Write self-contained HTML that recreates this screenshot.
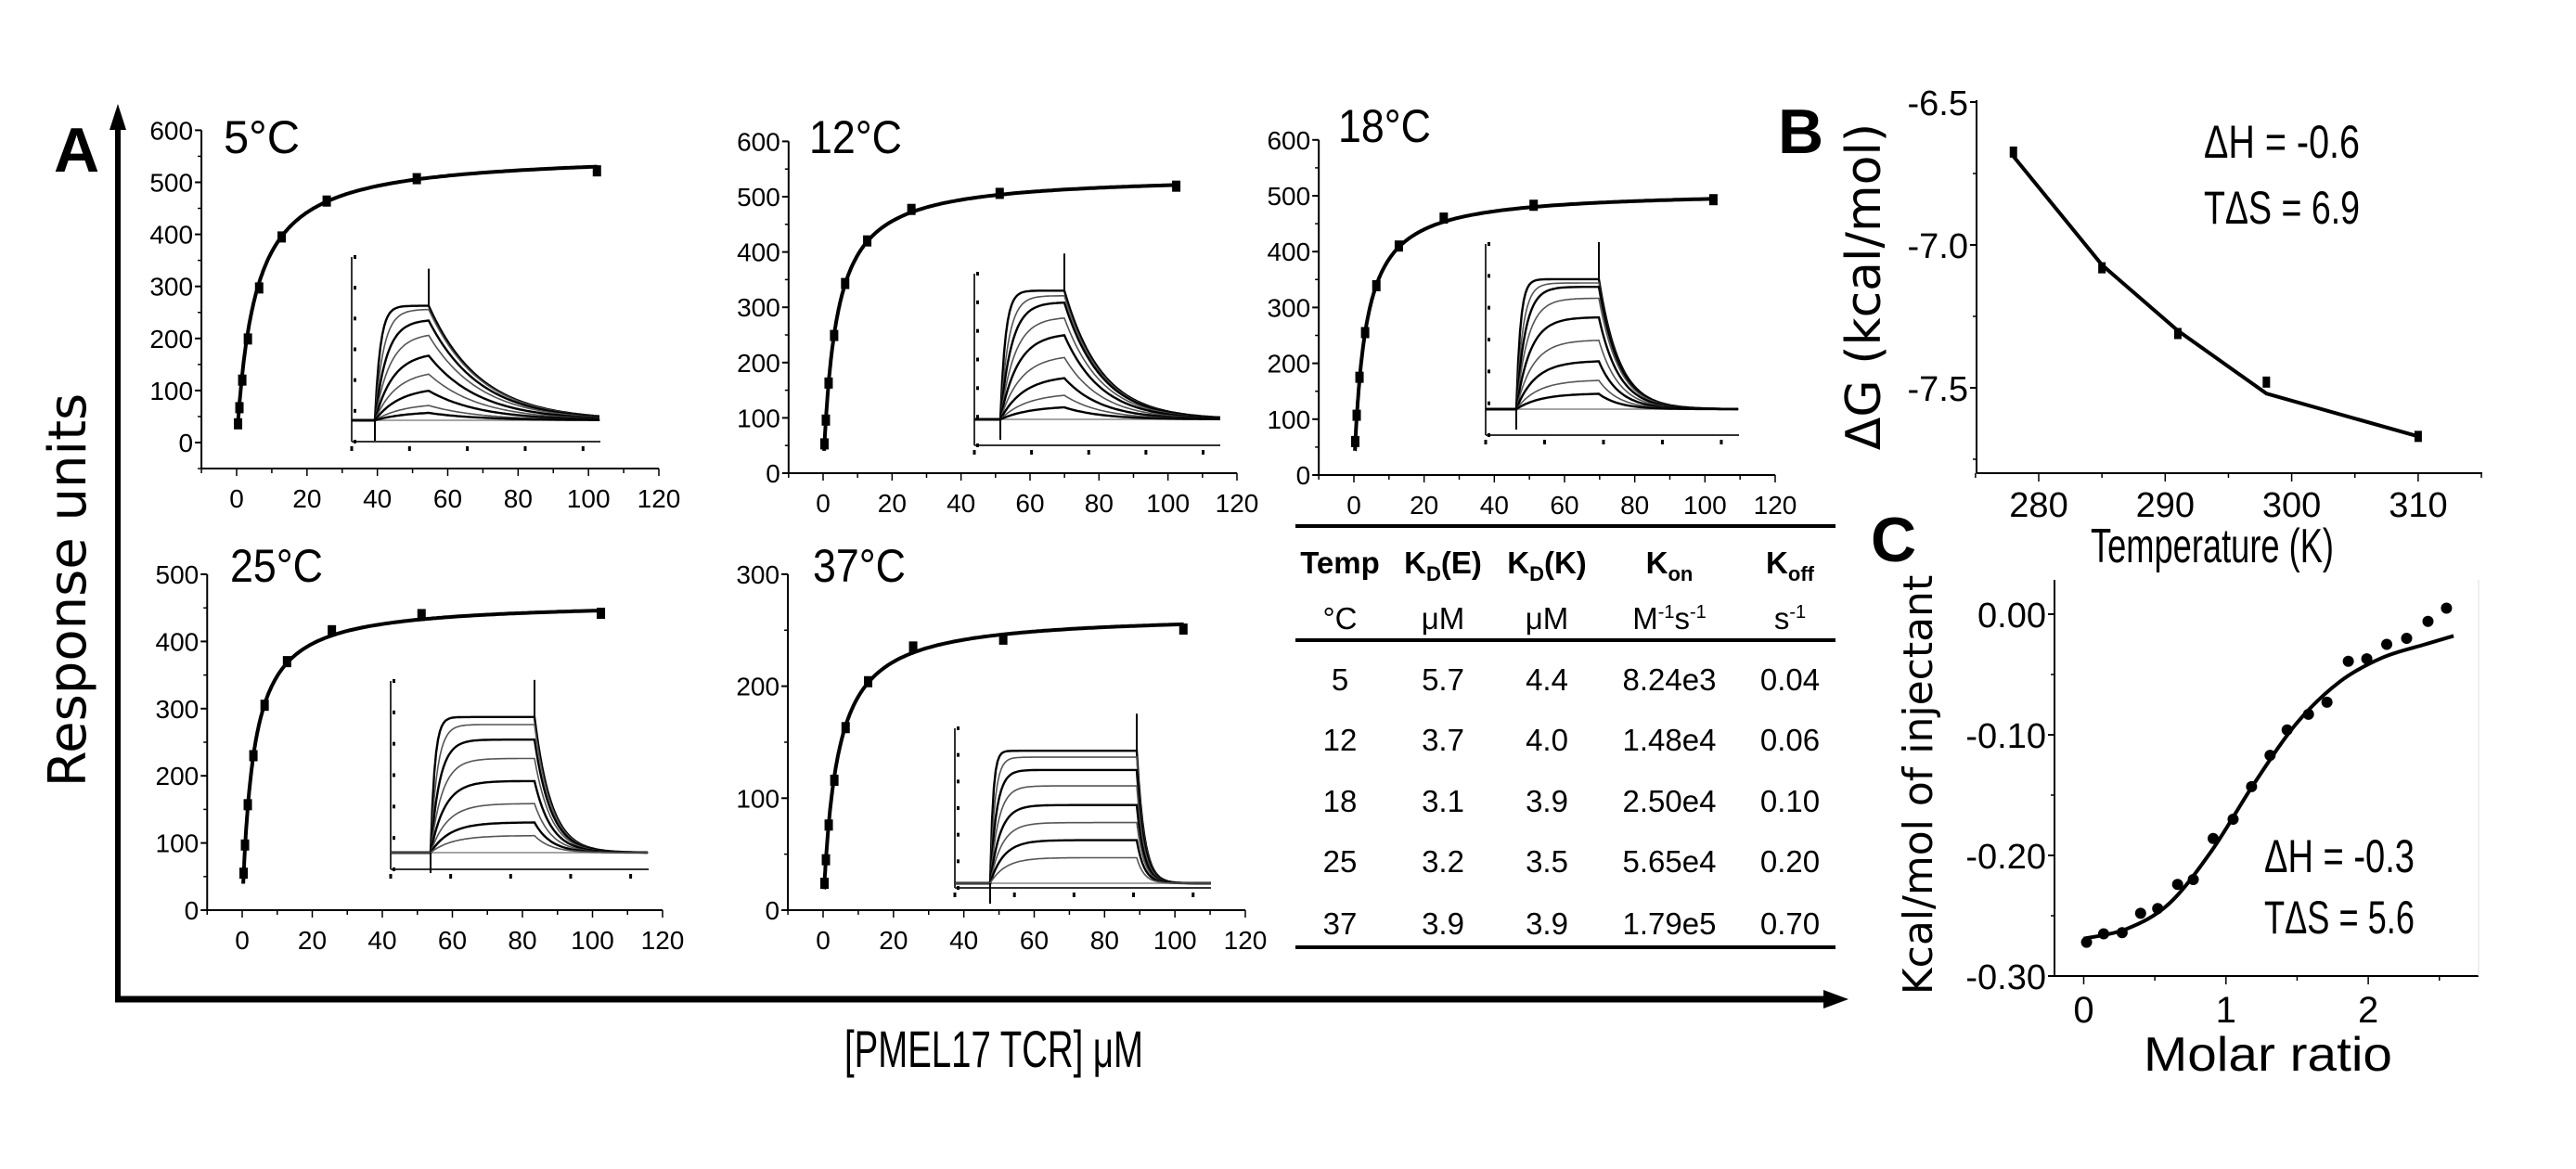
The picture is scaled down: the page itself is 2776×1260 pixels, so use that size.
<!DOCTYPE html>
<html><head><meta charset="utf-8">
<style>
html,body{margin:0;padding:0;background:#fff;}
svg{display:block;font-family:"Liberation Sans",sans-serif;}
</style></head>
<body>
<svg id="fig" width="2776" height="1260" viewBox="0 0 2776 1260" xmlns="http://www.w3.org/2000/svg">
<rect width="2776" height="1260" fill="#fff"/>
<g>
<line x1="127" y1="130" x2="127" y2="1080" stroke="#000" stroke-width="6"/>
<polygon points="127,112 118,140 136,140" fill="#000"/>
<line x1="124" y1="1077" x2="1975" y2="1077" stroke="#000" stroke-width="7"/>
<polygon points="1992,1077 1965,1067 1965,1087" fill="#000"/>
</g>
<text x="58" y="185" font-size="68" font-weight="bold">A</text>
<text transform="translate(92,636) rotate(-90)" text-anchor="middle" font-family="DejaVu Sans, sans-serif" font-size="56">Response units</text>
<text x="1071" y="1150" text-anchor="middle" font-size="56" textLength="322" lengthAdjust="spacingAndGlyphs">[PMEL17 TCR] μM</text>
<text x="1916" y="165" font-size="68" font-weight="bold">B</text>
<text x="2016" y="605" font-size="68" font-weight="bold">C</text>
<g id="plots"></g>
<g font-size="33" text-anchor="middle">
<line x1="1396" y1="567" x2="1978" y2="567" stroke="#000" stroke-width="4"/>
<line x1="1396" y1="690" x2="1978" y2="690" stroke="#000" stroke-width="4"/>
<line x1="1396" y1="1021" x2="1978" y2="1021" stroke="#000" stroke-width="4"/>
<g font-weight="bold">
<text x="1444" y="618">Temp</text>
<text x="1555" y="618">K<tspan font-size="22" dy="8">D</tspan><tspan dy="-8">(E)</tspan></text>
<text x="1667" y="618">K<tspan font-size="22" dy="8">D</tspan><tspan dy="-8">(K)</tspan></text>
<text x="1799" y="618">K<tspan font-size="22" dy="8">on</tspan></text>
<text x="1929" y="618">K<tspan font-size="22" dy="8">off</tspan></text>
</g>
<text x="1444" y="678">°C</text>
<text x="1555" y="678">μM</text>
<text x="1667" y="678">μM</text>
<text x="1799" y="678">M<tspan font-size="20" dy="-12">-1</tspan><tspan dy="12">s</tspan><tspan font-size="20" dy="-12">-1</tspan></text>
<text x="1929" y="678">s<tspan font-size="20" dy="-12">-1</tspan></text>
<g id="tbody"></g>
</g>
</svg>
<script>
const NS="http://www.w3.org/2000/svg";
const concs=[0.4,0.8,1.6,3.2,6.4,12.8,25.6,51.2,102.4];
const resp5=[36,67,120,199,297,395,464,507,522];
const resp12=[53,96,163,249,343,420,477,506,519];
const resp18=[60,107,175,255,339,410,460,483,493];
const resp25=[55,97,157,230,305,370,416,440,442];
const resp37=[24,45,76,116,163,204,235,242,251];
const fitRmax=[557,540,510,460,265];
const fitKd=[5.2,3.7,3.2,3.2,3.9];
const panelTitles=["5°C","12°C","18°C","25°C","37°C"];
const xTicks=[0,20,40,60,80,100,120];
const yTicks5=[0,100,200,300,400,500,600];
const yTicks25=[0,100,200,300,400,500];
const yTicks37=[0,100,200,300];
const sens5=[0.62,0.60,0.54,0.46,0.35,0.25,0.16,0.08,0.04];
const sens12=[0.75,0.72,0.68,0.59,0.49,0.36,0.24,0.14,0.07];
const sens18=[0.68,0.66,0.64,0.58,0.48,0.36,0.25,0.15,0.08];
const sens25=[0.72,0.68,0.60,0.50,0.38,0.26,0.16,0.09];
const sens37=[0.83,0.79,0.71,0.61,0.49,0.38,0.27,0.16];
const tempK=[278,285,291,298,310];
const dG=[-6.675,-7.08,-7.31,-7.48,-7.67];
const dGfit=[-6.69,-7.07,-7.30,-7.52,-7.67];
const bXTicks=[280,290,300,310];
const bYTicks=[-6.5,-7.0,-7.5];
const molar=[0.02,0.14,0.27,0.40,0.52,0.66,0.77,0.91,1.05,1.18,1.31,1.43,1.58,1.71,1.86,1.99,2.13,2.27,2.42,2.55];
const heat=[-0.272,-0.265,-0.264,-0.248,-0.244,-0.224,-0.220,-0.186,-0.170,-0.143,-0.117,-0.096,-0.083,-0.073,-0.039,-0.037,-0.025,-0.020,-0.006,0.005];
const fitMolar=[0,0.3,0.6,0.9,1.2,1.5,1.8,2.1,2.4,2.6];
const fitHeat=[-0.269,-0.261,-0.240,-0.196,-0.140,-0.090,-0.056,-0.036,-0.025,-0.018];
const cXTicks=[0,1,2];
const cYTicks=[0.00,-0.10,-0.20,-0.30];
const tTemp=["5","12","18","25","37"];
const tKdE=["5.7","3.7","3.1","3.2","3.9"];
const tKdK=["4.4","4.0","3.9","3.5","3.9"];
const tKon=["8.24e3","1.48e4","2.50e4","5.65e4","1.79e5"];
const tKoff=["0.04","0.06","0.10","0.20","0.70"];

const root=document.getElementById('plots');
function mk(tag,attrs,parent){const e=document.createElementNS(NS,tag);for(const k in attrs)e.setAttribute(k,attrs[k]);(parent||root).appendChild(e);return e;}
function smooth(pts){
 let d='M'+pts[0][0]+','+pts[0][1];
 for(let i=0;i<pts.length-1;i++){
  const p0=pts[Math.max(0,i-1)],p1=pts[i],p2=pts[i+1],p3=pts[Math.min(pts.length-1,i+2)];
  const c1=[p1[0]+(p2[0]-p0[0])/6,p1[1]+(p2[1]-p0[1])/6];
  const c2=[p2[0]-(p3[0]-p1[0])/6,p2[1]-(p3[1]-p1[1])/6];
  d+=' C'+c1[0].toFixed(1)+','+c1[1].toFixed(1)+' '+c2[0].toFixed(1)+','+c2[1].toFixed(1)+' '+p2[0].toFixed(1)+','+p2[1].toFixed(1);
 }
 return d;
}

const layouts=[
 {x0:255,x120:710,yZero:477,per100:56.1,ymin:-50,ymax:600,ticks:yTicks5,tx:241,ty:165,ins:{l:379,t:277,b:476,r:647,s:404,e:462,base:453,data:sens5,rise:0.10,dec:55}},
 {x0:887,x120:1333,yZero:510,per100:59.6,ymin:0,ymax:600,ticks:yTicks5,tx:872,ty:165,ins:{l:1050,t:295,b:480,r:1315,s:1078,e:1147,base:452,data:sens12,rise:0.08,dec:40}},
 {x0:1459,x120:1913,yZero:512,per100:60.2,ymin:0,ymax:600,ticks:yTicks5,tx:1442,ty:153,ins:{l:1601,t:263,b:469,r:1874,s:1634,e:1723,base:441,data:sens18,rise:0.05,dec:22}},
 {x0:261,x120:714,yZero:981,per100:72.4,ymin:0,ymax:500,ticks:yTicks25,tx:248,ty:627,ins:{l:421,t:734,b:937,r:699,s:464,e:576,base:919,data:sens25,rise:0.04,dec:18}},
 {x0:887,x120:1342,yZero:981,per100:120.7,ymin:0,ymax:300,ticks:yTicks37,tx:876,ty:627,ins:{l:1029,t:785,b:957,r:1305,s:1067,e:1225,base:952,data:sens37,rise:0.02,dec:8}}
];
const respAll=[resp5,resp12,resp18,resp25,resp37];

layouts.forEach((L,pi)=>{
 const g=mk('g',{});
 
 
 const sx=v=>L.x0+(v)*(L.x120-L.x0)/120;
 const sy=v=>L.yZero-v*L.per100/100;
 const left=sx(-10), bottom=sy(L.ymin), top=sy(L.ymax);
 mk('line',{x1:left,y1:top,x2:left,y2:bottom,stroke:'#000','stroke-width':2},g);
 mk('line',{x1:left,y1:bottom,x2:sx(120),y2:bottom,stroke:'#000','stroke-width':2},g);
 L.ticks.forEach(t=>{
  mk('line',{x1:left-7,y1:sy(t),x2:left,y2:sy(t),stroke:'#000','stroke-width':2},g);
  if(t+50<=L.ymax) mk('line',{x1:left-4,y1:sy(t+50),x2:left,y2:sy(t+50),stroke:'#000','stroke-width':1.5},g);
  const tl=mk('text',{x:left-9,y:sy(t)+10,'text-anchor':'end','font-size':28},g);tl.textContent=t;
  
  
 });
 if(L.ymin<0) mk('line',{x1:left-4,y1:sy(-50),x2:left,y2:sy(-50),stroke:'#000','stroke-width':1.5},g);
 for(let v=-10;v<=120;v+=10){
  const major=xTicks.includes(v);
  mk('line',{x1:sx(v),y1:bottom,x2:sx(v),y2:bottom+(major?8:5),stroke:'#000','stroke-width':1.5},g);
 }
 xTicks.forEach(t=>{
  const tl=mk('text',{x:sx(t),y:bottom+42,'text-anchor':'middle','font-size':28},g);tl.textContent=t;
  
  
 });
 const title=mk('text',{x:L.tx,y:L.ty,'font-size':50,textLength:(panelTitles[pi].length>3?100:82),lengthAdjust:'spacingAndGlyphs'},g);
 title.textContent=panelTitles[pi];
 
 
 let d='';
 for(let i=0;i<=200;i++){const c=0.3+Math.pow(i/200,2.2)*102.2;const r=fitRmax[pi]*c/(fitKd[pi]+c);d+=(i?'L':'M')+sx(c).toFixed(1)+','+sy(r).toFixed(1);}
 const fc=mk('path',{d:d,fill:'none',stroke:'#000','stroke-width':4},g);
 
 
 respAll[pi].forEach((r,i)=>{
  const m=mk('rect',{x:sx(concs[i])-4.5,y:sy(r)-6,width:9,height:12,fill:'#000'},g);
  
  
 });
 const I=L.ins;
 const ig=mk('g',{},g);
 
 
 mk('line',{x1:I.l,y1:I.t,x2:I.l,y2:I.b,stroke:'#333','stroke-width':2},ig);
 mk('line',{x1:I.l,y1:I.b,x2:I.r,y2:I.b,stroke:'#333','stroke-width':2},ig);
 for(let k=0;k<7;k++){const yy=I.t+k*(I.b-I.t)/6;mk('rect',{x:I.l+2,y:yy-2,width:3,height:4,fill:'#000'},ig);}
 for(let k=0;k<5;k++){const xx=I.l+k*(I.r-I.l)/4.3;mk('rect',{x:xx-1.5,y:I.b+5,width:3,height:5,fill:'#000'},ig);}
 const H=I.b-I.t, W=I.e-I.s;
 mk('line',{x1:I.l,y1:I.base,x2:I.r,y2:I.base,stroke:'#888','stroke-width':1.5},ig);
 I.data.forEach((f,j)=>{
  const amp=f*H;
  const tau=W*I.rise*(1+j*0.6);
  let p='M'+I.l+','+I.base+' L'+I.s+','+I.base;
  for(let x=I.s;x<=I.e;x+=2){p+=' L'+x+','+(I.base-amp*(1-Math.exp(-(x-I.s)/tau))/(1-Math.exp(-W/tau))).toFixed(1);}
  for(let x=I.e;x<=I.r;x+=2){p+=' L'+x+','+(I.base-amp*Math.exp(-(x-I.e)/I.dec)).toFixed(1);}
  const sp=mk('path',{d:p,fill:'none',stroke:j%2?'#555':'#000','stroke-width':j%2?1.6:2.4},ig);
  
  
 });
 mk('line',{x1:I.s,y1:I.base,x2:I.s,y2:I.base+22,stroke:'#000','stroke-width':2},ig);
 mk('line',{x1:I.e,y1:I.base-I.data[0]*H,x2:I.e,y2:I.base-I.data[0]*H-40,stroke:'#000','stroke-width':2},ig);
});

(function(){
 const g=mk('g',{});
 
 
 const sx=v=>2197+(v-280)*13.63;
 const sy=v=>110+(-6.5-v)*308;
 const left=2130,bottom=510;
 mk('line',{x1:left,y1:108,x2:left,y2:bottom,stroke:'#000','stroke-width':2},g);
 mk('line',{x1:left,y1:bottom,x2:2675,y2:bottom,stroke:'#000','stroke-width':2},g);
 bYTicks.forEach(t=>{
  mk('line',{x1:left-7,y1:sy(t),x2:left,y2:sy(t),stroke:'#000','stroke-width':2},g);
  mk('line',{x1:left-4,y1:sy(t-0.25),x2:left,y2:sy(t-0.25),stroke:'#000','stroke-width':1.5},g);
  const tl=mk('text',{x:left-9,y:sy(t)+14,'text-anchor':'end','font-size':38},g);tl.textContent=t.toFixed(1);
  
  
 });
 for(let v=275;v<=315;v+=5){mk('line',{x1:sx(v),y1:bottom,x2:sx(v),y2:bottom+(v%10?5:9),stroke:'#000','stroke-width':1.5},g);}
 bXTicks.forEach(t=>{
  const tl=mk('text',{x:sx(t),y:557,'text-anchor':'middle','font-size':38},g);tl.textContent=t;
  
  
 });
 let d='';tempK.forEach((t,i)=>{d+=(i?'L':'M')+sx(t)+','+sy(dGfit[i]);});
 const ln=mk('path',{d:d,fill:'none',stroke:'#000','stroke-width':4},g);
 
 
 tempK.forEach((t,i)=>{const m=mk('rect',{x:sx(t)-4,y:sy(dG[i])-6,width:8,height:12,fill:'#000'},g);
  
  });
 const yl=mk('text',{transform:'translate(2026,309) rotate(-90)','text-anchor':'middle','font-family':'DejaVu Sans, sans-serif','font-size':52},g);yl.textContent='ΔG (kcal/mol)';
 
 
 const xl=mk('text',{x:2384,y:606,'text-anchor':'middle','font-size':52,textLength:262,lengthAdjust:'spacingAndGlyphs'},g);xl.textContent='Temperature (K)';
 
 
 const a1=mk('text',{x:2375,y:170,'font-size':50,textLength:168,lengthAdjust:'spacingAndGlyphs'},g);a1.textContent='ΔH = -0.6';
 
 
 const a2=mk('text',{x:2375,y:241,'font-size':50,textLength:168,lengthAdjust:'spacingAndGlyphs'},g);a2.textContent='TΔS = 6.9';
 
 
})();

(function(){
 const g=mk('g',{});
 
 
 const sx=v=>2245.5+v*153.3;
 const sy=v=>662-v*1300;
 const left=2214,bottom=1052;
 mk('line',{x1:left,y1:625,x2:left,y2:bottom,stroke:'#000','stroke-width':2},g);
 mk('line',{x1:left,y1:bottom,x2:2671,y2:bottom,stroke:'#000','stroke-width':2},g);
 mk('line',{x1:2671,y1:625,x2:2671,y2:bottom,stroke:'#ddd','stroke-width':1},g);
 cYTicks.forEach(t=>{
  mk('line',{x1:left-7,y1:sy(t),x2:left,y2:sy(t),stroke:'#000','stroke-width':2},g);
  if(t>-0.3) mk('line',{x1:left-4,y1:sy(t-0.05),x2:left,y2:sy(t-0.05),stroke:'#000','stroke-width':1.5},g);
  const tl=mk('text',{x:left-9,y:sy(t)+14,'text-anchor':'end','font-size':38},g);tl.textContent=t.toFixed(2);
  
  
 });
 for(let v=0;v<=2.75;v+=0.5){mk('line',{x1:sx(v),y1:bottom,x2:sx(v),y2:bottom+(v%1?5:9),stroke:'#000','stroke-width':1.5},g);}
 cXTicks.forEach(t=>{
  const tl=mk('text',{x:sx(t),y:1102,'text-anchor':'middle','font-size':40},g);tl.textContent=t;
  
  
 });
 const pts=fitMolar.map((m,i)=>[sx(m),sy(fitHeat[i])]);
 const ln=mk('path',{d:smooth(pts),fill:'none',stroke:'#000','stroke-width':4,'stroke-linejoin':'round'},g);
 
 
 molar.forEach((m,i)=>{const c=mk('circle',{cx:sx(m),cy:sy(heat[i]),r:6,fill:'#000'},g);
  
  });
 const yl=mk('text',{transform:'translate(2082,846) rotate(-90)','text-anchor':'middle','font-family':'DejaVu Sans, sans-serif','font-size':44},g);yl.textContent='Kcal/mol of injectant';
 
 
 const xl=mk('text',{x:2444,y:1154,'text-anchor':'middle','font-size':52,textLength:268,lengthAdjust:'spacingAndGlyphs'},g);xl.textContent='Molar ratio';
 
 
 const a1=mk('text',{x:2440,y:940,'font-size':50,textLength:162,lengthAdjust:'spacingAndGlyphs'},g);a1.textContent='ΔH = -0.3';
 
 
 const a2=mk('text',{x:2440,y:1006,'font-size':50,textLength:162,lengthAdjust:'spacingAndGlyphs'},g);a2.textContent='TΔS = 5.6';
 
 
})();

(function(){
 const tb=document.getElementById('tbody');
 const rowY=[744,809,875,940,1007];
 const colX=[1444,1555,1667,1799,1929];
 const cols=[tTemp,tKdE,tKdK,tKon,tKoff];
 tTemp.forEach((_,r)=>{
  cols.forEach((col,c)=>{
   const t=mk('text',{x:colX[c],y:rowY[r]},tb);
   t.textContent=col[r];
   
   
  });
 });
})();
</script>
</body></html>
